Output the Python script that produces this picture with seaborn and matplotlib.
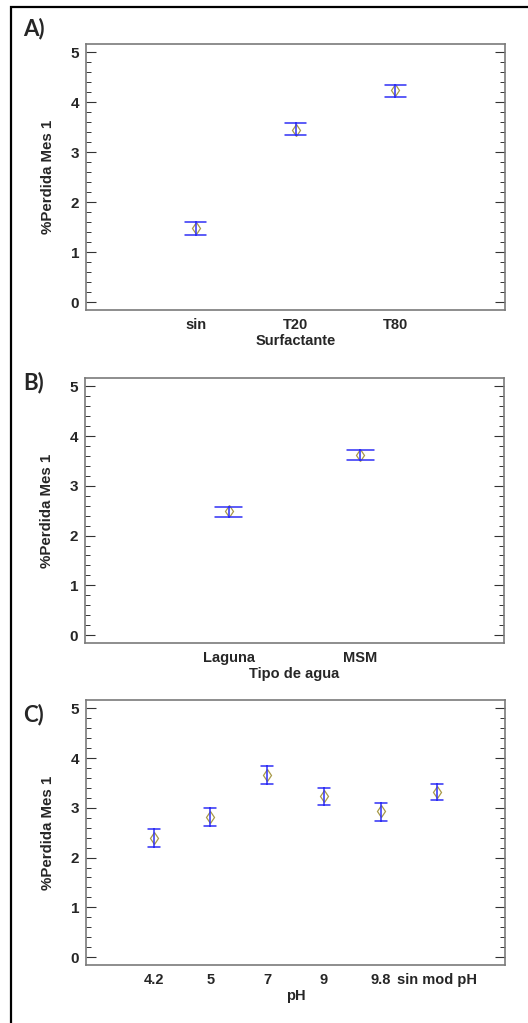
import numpy as np
import pandas as pd
import matplotlib
matplotlib.use("Agg")
import matplotlib.pyplot as plt
import matplotlib.patches as mpatches
from matplotlib.ticker import MultipleLocator
import seaborn as sns

sns.set_style("white")
plt.rcParams['font.family'] = ['Liberation Sans', 'DejaVu Sans']

# ---- datos (medias e intervalos LSD) ----
surf_cats = ["sin", "T20", "T80"]
surf_mean = [1.48, 3.45, 4.24]
surf_low = [1.35, 3.35, 4.11]
surf_high = [1.60, 3.59, 4.35]

agua_cats = ["Laguna", "MSM"]
agua_mean = [2.50, 3.62]
agua_low = [2.38, 3.52]
agua_high = [2.58, 3.72]

ph_cats = ["4.2", "5", "7", "9", "9.8", "sin mod pH"]
ph_mean = [2.39, 2.82, 3.67, 3.24, 2.94, 3.31]
ph_low = [2.21, 2.64, 3.49, 3.06, 2.74, 3.16]
ph_high = [2.58, 2.99, 3.85, 3.39, 3.09, 3.49]

W, H = 528, 1023
BLUE = "#2f2ff5"
OLIVE = "#a89a48"

fig = plt.figure(figsize=(W / 100, H / 100), dpi=100)


def long_table(cats, mean, low, high):
    # tres filas por nivel: limite inferior, media, limite superior
    rows = []
    for c, m, lo, hi in zip(cats, mean, low, high):
        for v in (lo, m, hi):
            rows.append({"nivel": c, "valor": v})
    return pd.DataFrame(rows)


def panel(box, cats, mean, low, high, xlabel, tag, tag_y, margin):
    left, top, right, bottom = box
    ax = fig.add_axes([left / W, 1 - bottom / H, (right - left) / W, (bottom - top) / H])
    df = long_table(cats, mean, low, high)
    sns.pointplot(data=df, x="nivel", y="valor", order=cats,
                  estimator=np.median, errorbar=lambda v: (v.min(), v.max()),
                  linestyle="none", marker="d", markersize=6,
                  markerfacecolor="none", markeredgewidth=0.9,
                  color=OLIVE, capsize=0.21,
                  err_kws={"color": BLUE, "linewidth": 1.1},
                  ax=ax)
    ax.set_xlim(-margin, len(cats) - 1 + margin)
    ax.set_ylim(-0.16, 5.17)
    ax.yaxis.set_major_locator(MultipleLocator(1))
    ax.yaxis.set_minor_locator(MultipleLocator(0.2))
    ax.tick_params(axis="y", which="major", direction="in", length=7, width=0.8,
                   left=True, right=True, labelsize=11, pad=5, color="#333333")
    ax.tick_params(axis="y", which="minor", direction="in", length=3.5, width=0.7,
                   left=True, right=True, color="#333333")
    ax.tick_params(axis="x", length=0, labelsize=10.5, pad=6)
    for lab in ax.get_xticklabels() + ax.get_yticklabels():
        lab.set_fontweight("bold")
    for sp in ax.spines.values():
        sp.set_visible(True)
        sp.set_color("#7a7a7a")
        sp.set_linewidth(1.2)
    ax.set_xlabel(xlabel, fontsize=10.5, fontweight="bold", labelpad=1)
    ax.set_ylabel("%Perdida Mes 1", fontsize=10.8, fontweight="bold", labelpad=11)
    fig.text(23 / W, 1 - tag_y / H, tag, fontsize=16, fontweight="bold",
             family=["Lato", "DejaVu Sans"], ha="left", va="center")
    return ax


panel((86, 44, 505, 310), surf_cats, surf_mean, surf_low, surf_high,
      "Surfactante", "A)", 29, 1.1)
panel((85, 378, 504, 643), agua_cats, agua_mean, agua_low, agua_high,
      "Tipo de agua", "B)", 383, 1.09)
panel((86, 700, 505, 965), ph_cats, ph_mean, ph_low, ph_high,
      "pH", "C)", 715, 1.19)

# marco exterior (recortado a la derecha y abajo)
frame = mpatches.Rectangle((10.5 / W, -0.02), 1.0, 1 - 7 / H + 0.02,
                           transform=fig.transFigure, fill=False,
                           edgecolor="black", linewidth=1.6, clip_on=False)
fig.patches.append(frame)

fig.savefig("out.png", dpi=100)
